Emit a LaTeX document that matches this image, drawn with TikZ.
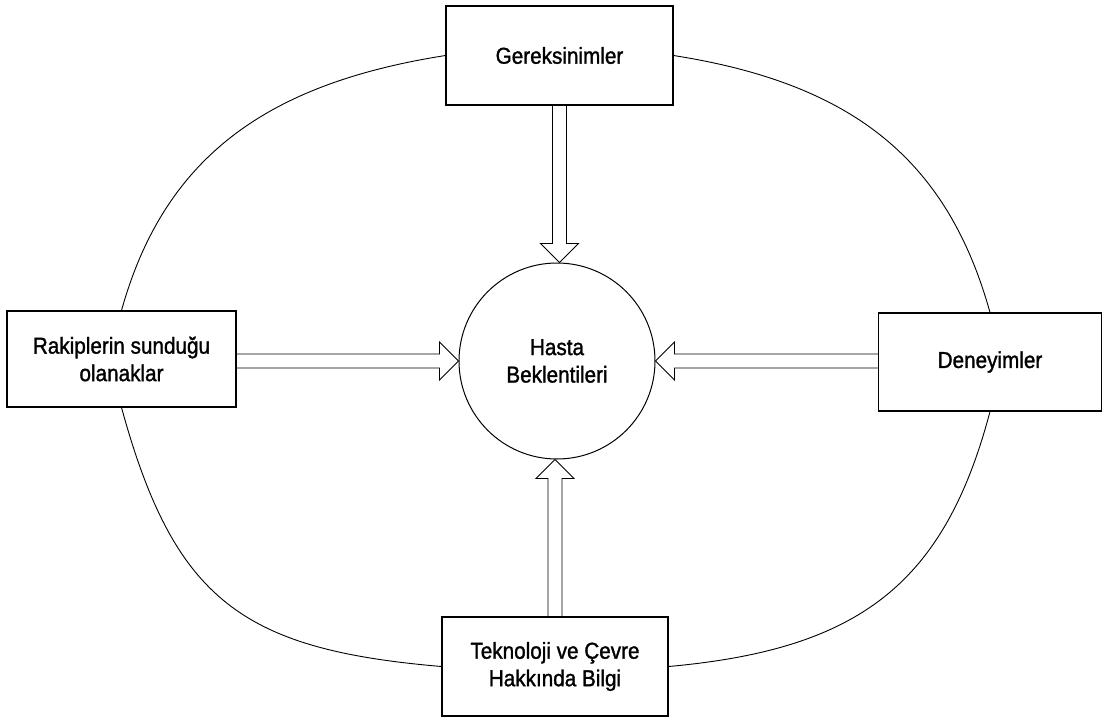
\documentclass[tikz,border=0pt]{standalone}
\usepackage{fontspec}
\setmainfont{Liberation Sans}
\newfontfamily\labelfont[FakeStretch=0.9, FakeBold=1.3]{Liberation Sans}
\usetikzlibrary{calc}

\tikzset{
  lbl/.style={font=\labelfont\fontsize{23}{27.5}\selectfont},
  box/.style={draw, line width=1.1pt, fill=white, inner sep=0pt,
    align=center, lbl},
  hub/.style={draw, circle, line width=1pt, fill=white, inner sep=0pt,
    minimum size=196pt, align=center, lbl},
  loop/.style={line width=0.9pt},
  hollow/.style={line width=0.9pt, line join=miter},
}

% Hollow block arrow from #1 (tail, open end) to #2 (tip)
\newcommand\blockarrow[2]{%
  \coordinate (ba-h) at ($(#2)!19pt!(#1)$);
  \draw[hollow]
    ($(#1)!7pt!90:(#2)$) -- ($(ba-h)!7pt!-90:(#1)$)
    -- ($(ba-h)!19pt!-90:(#1)$) -- (#2)
    -- ($(ba-h)!19pt!90:(#1)$) -- ($(ba-h)!7pt!90:(#1)$)
    -- ($(#1)!7pt!-90:(#2)$);
}

\begin{document}
\begin{tikzpicture}[x=1pt, y=-1pt]
  \useasboundingbox (0,0) rectangle (1104,718);

  % central circle
  \node[hub] (hub) at (557,361) {Hasta\\Beklentileri};

  % the four sources
  \node[box, minimum width=227pt, minimum height=99pt] (top)   at (559.5,55.5) {Gereksinimler};
  \node[box, minimum width=229pt, minimum height=96pt] (left)  at (121.5,359)  {Rakiplerin sunduğu\\olanaklar};
  \node[box, minimum width=223pt, minimum height=98pt] (right) at (990,362)    {Deneyimler};
  \node[box, minimum width=226pt, minimum height=99pt] (bot)   at (555,666.5)  {Teknoloji ve Çevre\\Hakkında Bilgi};

  % curved links joining the sources in a ring
  \draw[loop] (top.west)   .. controls +(-178,28) and +(43,-154)  .. (left.north);
  \draw[loop] (top.east)   .. controls +(178,28)  and +(-43,-154) .. (right.north);
  \draw[loop] (left.south) .. controls +(53,193)  and +(-199,-17) .. (bot.west);
  \draw[loop] (right.south).. controls +(-46,174) and +(189,-17)  .. (bot.east);

  % arrows into the centre
  \coordinate (tipT) at (top.south |- hub.north);
  \coordinate (tipB) at (bot.north |- hub.south);
  \coordinate (tailL) at (left.east |- hub.west);
  \coordinate (tailR) at (right.west |- hub.east);
  \blockarrow{top.south}{tipT}
  \blockarrow{bot.north}{tipB}
  \blockarrow{tailL}{hub.west}
  \blockarrow{tailR}{hub.east}
\end{tikzpicture}
\end{document}
